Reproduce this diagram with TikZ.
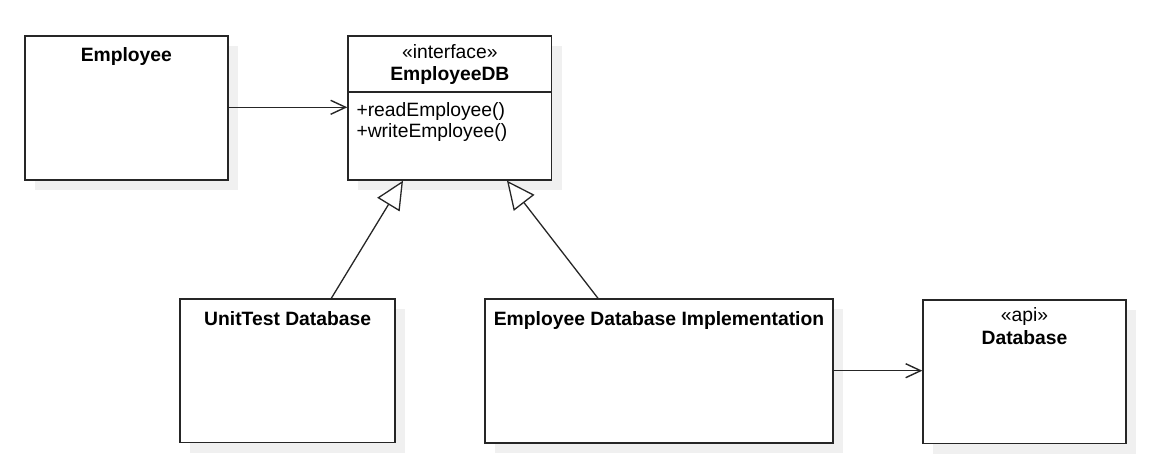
\documentclass[tikz,border=0pt]{standalone}
\usepackage{fontspec}
\setmainfont{Liberation Sans}
\usetikzlibrary{arrows.meta,calc,shadows}
\begin{document}
\begin{tikzpicture}[x=1pt,y=-1pt,
  cls/.style={draw=black!85, line width=1.7pt, fill=white, rectangle, inner sep=0pt, anchor=north west,
    drop shadow={shadow xshift=10pt, shadow yshift=-10pt, fill=black!6, opacity=1}},
  title/.style={font=\fontsize{19.3}{22}\selectfont\bfseries, anchor=base, inner sep=0pt},
  stereo/.style={font=\fontsize{19.3}{22}\selectfont, anchor=base, inner sep=0pt},
  member/.style={font=\fontsize{19.3}{22}\selectfont, anchor=base west, inner sep=0pt},
  assoc/.style={draw=black!85, line width=1.4pt, -{Straight Barb[length=15pt,width=14pt,line width=1.4pt]}},
  gen/.style={draw=black!85, line width=1.3pt, -{Triangle[open,length=28pt,width=26pt,line width=1.3pt,fill=white]}}
]
\useasboundingbox (0,0) rectangle (1152,475);
% classes
\node[cls, minimum width=203pt, minimum height=144pt] (emp) at (24,35) {};
\node[cls, minimum width=203.4pt, minimum height=144pt] (edb) at (347.3,35) {};
\node[cls, minimum width=215pt, minimum height=143.4pt] (ut) at (179.3,298.3) {};
\node[cls, minimum width=347.7pt, minimum height=144pt] (impl) at (484.3,298.3) {};
\node[cls, minimum width=202.7pt, minimum height=143.7pt] (dbase) at (922.3,299) {};
% texts
\node[title] (tEmp) at ($(emp.north)+(0,26.7)$) {Employee};
\node[stereo] (sEdb) at ($(edb.north)+(0,23.3)$) {«interface»};
\node[title] (tEdb) at ($(edb.north)+(0,45)$) {EmployeeDB};
\draw[draw=black!85, line width=1.7pt] ($(edb.north west)+(0,56.7)$) -- ($(edb.north east)+(0,56.7)$);
\node[member] (m1) at ($(edb.north west)+(9,81.7)$) {+readEmployee()};
\node[member] (m2) at ($(edb.north west)+(9,102.7)$) {+writeEmployee()};
\node[title] (tUt) at ($(ut.north)+(0,26.7)$) {UnitTest Database};
\node[title] (tImpl) at ($(impl.north)+(0,26.7)$) {Employee Database Implementation};
\node[stereo] (sDb) at ($(dbase.north)+(0,22.7)$) {«api»};
\node[title] (tDb) at ($(dbase.north)+(0,45)$) {Database};
% connectors
\coordinate (a1) at ($(emp.north east)+(0,72.3)$);
\draw[assoc] (a1) -- (a1 -| edb.west);
\coordinate (a2) at ($(impl.north east)+(0,72.4)$);
\draw[assoc] (a2) -- (a2 -| dbase.west);
\draw[gen] ($(ut.north west)+(152,0)$) -- ($(edb.south west)+(55.7,0)$);
\draw[gen] ($(impl.north west)+(113.7,0)$) -- ($(edb.south west)+(159.7,0)$);
\end{tikzpicture}
\end{document}
